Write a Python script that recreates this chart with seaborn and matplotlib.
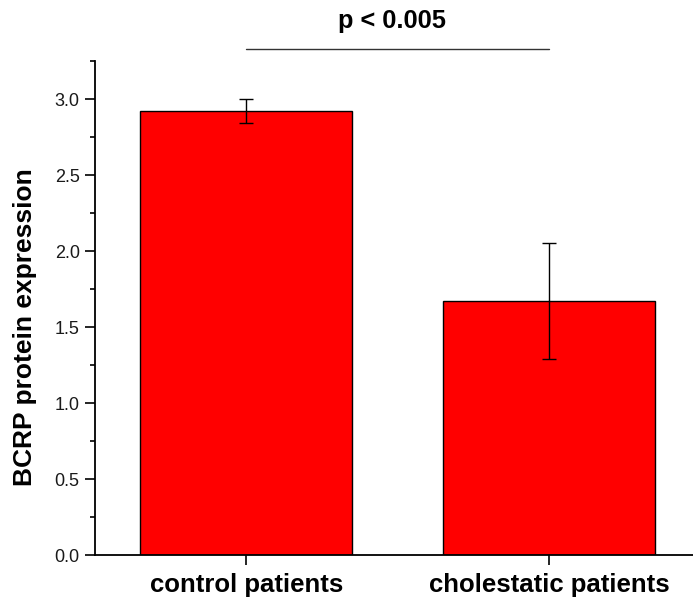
import matplotlib
matplotlib.use("Agg")
import matplotlib.pyplot as plt
from matplotlib.ticker import MultipleLocator
import seaborn as sns
import pandas as pd

# Group means and error (SEM) of BCRP protein expression
groups = ["control patients", "cholestatic patients"]
means = [2.92, 1.67]
errors = [0.08, 0.38]
p_label = "p < 0.005"

sns.set_theme(style="ticks")
plt.rcParams["font.family"] = ["Liberation Sans", "DejaVu Sans"]
plt.rcParams["text.color"] = "black"
plt.rcParams["axes.labelcolor"] = "black"

df = pd.DataFrame({"group": groups, "expression": means})

fig = plt.figure(figsize=(6.93, 5.99), dpi=100)
ax = fig.add_axes([95 / 693, 44 / 599, 598 / 693, 494 / 599])

sns.barplot(data=df, x="group", y="expression", order=groups, color="#ff0000",
            saturation=1, edgecolor="black", linewidth=1.0, width=0.7,
            errorbar=None, ax=ax)
ax.errorbar(range(len(groups)), means, yerr=errors, fmt="none",
            ecolor="black", elinewidth=1.0, capsize=5, capthick=1.0)

ax.set_xlim(-0.5, 1.474)
ax.set_ylim(0, 3.25)
ax.yaxis.set_major_locator(MultipleLocator(0.5))
ax.yaxis.set_minor_locator(MultipleLocator(0.25))
ax.yaxis.set_major_formatter(plt.FuncFormatter(lambda v, _: f"{v:.1f}"))

for side in ("top", "right"):
    ax.spines[side].set_visible(False)
for side in ("left", "bottom"):
    ax.spines[side].set_color("black")
    ax.spines[side].set_linewidth(1.3)

ax.tick_params(axis="y", which="major", direction="out", length=7, width=1.2,
               color="black", labelsize=13, pad=4, labelcolor="#1a1a1a")
ax.tick_params(axis="y", which="minor", direction="out", length=3.5, width=1.2,
               color="black")
ax.tick_params(axis="x", which="major", direction="out", length=7, width=1.2,
               color="black", labelsize=18.5, pad=6, labelcolor="black")
for lbl in ax.get_xticklabels():
    lbl.set_fontweight("bold")

ax.set_xlabel("")
ax.set_ylabel("BCRP protein expression", fontsize=19, fontweight="bold",
              color="black")
ax.yaxis.set_label_coords(-0.097, 0.4615)

# Significance bracket between the two groups
y_line = 3.33
ax.plot([0, 1], [y_line, y_line], color="#333333", linewidth=1.0, clip_on=False)
ax.text(0.48, 3.515, p_label, ha="center", va="center", fontsize=18.3,
        fontweight="bold", color="black", clip_on=False)

fig.savefig("out.png", dpi=100)
